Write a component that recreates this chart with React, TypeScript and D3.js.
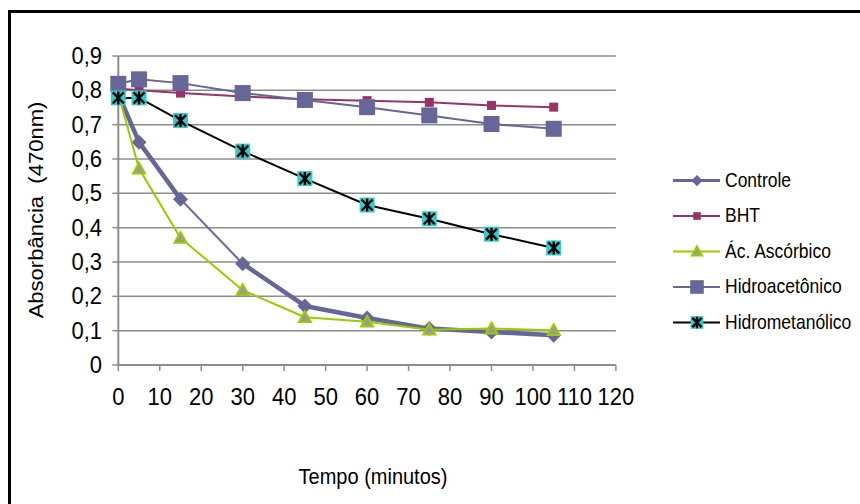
import React from "react";
import * as d3 from "d3";

const times = [0, 5, 15, 30, 45, 60, 75, 90, 105];
const controle = [0.79, 0.649, 0.483, 0.295, 0.172, 0.137, 0.106, 0.096, 0.087];
const bht = [0.805, 0.8, 0.792, 0.782, 0.774, 0.77, 0.765, 0.756, 0.751];
const ascorbico = [0.79, 0.572, 0.37, 0.218, 0.139, 0.126, 0.103, 0.106, 0.101];
const hidroacetonico = [0.819, 0.832, 0.821, 0.792, 0.772, 0.751, 0.727, 0.702, 0.688];
const hidrometanolico = [0.778, 0.778, 0.712, 0.623, 0.543, 0.466, 0.426, 0.381, 0.341];

const seriesNames = ["Controle", "BHT", "Ác. Ascórbico", "Hidroacetônico", "Hidrometanólico"];
const yTicks = [0, 0.1, 0.2, 0.3, 0.4, 0.5, 0.6, 0.7, 0.8, 0.9];
const xTicks = [0, 10, 20, 30, 40, 50, 60, 70, 80, 90, 100, 110, 120];
const yTitle = "Absorbância  (470nm)";
const xTitle = "Tempo (minutos)";

const FONT = "'Liberation Sans', Arial, sans-serif";
const SY = 1.13;

type Kind = "diamond" | "smallSquare" | "triangle" | "bigSquare" | "starSquare";
const styles: { color: string; width: number; thinWidth: number; thinSegments: number[]; kind: Kind; legendWidth: number }[] = [
  { color: "#666699", width: 4.5, thinWidth: 2, thinSegments: [2], kind: "diamond", legendWidth: 3 },
  { color: "#993366", width: 2, thinWidth: 2, thinSegments: [], kind: "smallSquare", legendWidth: 2 },
  { color: "#99cc00", width: 2, thinWidth: 2, thinSegments: [], kind: "triangle", legendWidth: 2 },
  { color: "#666699", width: 2, thinWidth: 2, thinSegments: [], kind: "bigSquare", legendWidth: 2 },
  { color: "#000000", width: 2, thinWidth: 2, thinSegments: [], kind: "starSquare", legendWidth: 2 },
];

function Marker({ kind, x, y, scale = 1 }: { kind: Kind; x: number; y: number; scale?: number }) {
  const s = scale;
  switch (kind) {
    case "diamond": {
      const r = 7.5 * s;
      return <path d={`M${x},${y - r}L${x + r},${y}L${x},${y + r}L${x - r},${y}Z`} fill="#666699" />;
    }
    case "smallSquare": {
      const h = 4.5 * s;
      return <rect x={x - h} y={y - h} width={2 * h} height={2 * h} fill="#993366" />;
    }
    case "triangle": {
      const h = 6 * s;
      return (
        <path
          d={`M${x},${y - h}L${x + h},${y + h * 0.8}L${x - h},${y + h * 0.8}Z`}
          fill="#999999"
          stroke="#99cc00"
          strokeWidth={2}
        />
      );
    }
    case "bigSquare": {
      const h = 8 * s;
      return <rect x={x - h} y={y - h} width={2 * h} height={2 * h} fill="#666699" />;
    }
    case "starSquare": {
      const h = 7.5 * s;
      const a = 5.5 * s;
      return (
        <g>
          <rect x={x - h} y={y - h} width={2 * h} height={2 * h} fill="#33cccc" />
          <path
            d={`M${x - a},${y - a}L${x + a},${y + a}M${x + a},${y - a}L${x - a},${y + a}M${x},${y - a - 1}L${x},${y + a + 1}`}
            stroke="#000"
            strokeWidth={2.4}
          />
        </g>
      );
    }
  }
}

export default function App() {
  const x = d3.scaleLinear().domain([0, 120]).range([118.3, 615.9]);
  const y = d3.scaleLinear().domain([0, 0.9]).range([365, 56]);
  const allSeries = [controle, bht, ascorbico, hidroacetonico, hidrometanolico];
  const segLine = d3
    .line<[number, number]>()
    .x((d) => x(d[0]))
    .y((d) => y(d[1]));

  const legendX = 673;
  const legendY0 = 180.5;
  const legendStep = 35.5;
  const fmtY = (t: number) => (t === 0 ? "0" : d3.format(".1f")(t).replace(".", ","));

  return (
    <div style={{ position: "absolute", left: 0, top: 0 }}>
      <svg width={860} height={504} style={{ display: "block", background: "#fff" }}>
        <rect x={0} y={0} width={860} height={504} fill="#fff" />
        <path d="M9.5,600V11.5H900" fill="none" stroke="#000" strokeWidth={3} />

        {yTicks.slice(1).map((t) => (
          <line key={t} x1={x(0)} x2={x(120)} y1={y(t)} y2={y(t)} stroke="#8c8c8c" strokeWidth={1.5} />
        ))}
        <line x1={x(0)} x2={x(0)} y1={y(0.9)} y2={y(0)} stroke="#8c8c8c" strokeWidth={2} />
        <line x1={x(0)} x2={x(120)} y1={y(0)} y2={y(0)} stroke="#8c8c8c" strokeWidth={2} />
        {yTicks.map((t) => (
          <line key={t} x1={x(0) - 6} x2={x(0)} y1={y(t)} y2={y(t)} stroke="#8c8c8c" strokeWidth={1.5} />
        ))}
        {xTicks.map((t) => (
          <line key={t} x1={x(t)} x2={x(t)} y1={y(0)} y2={y(0) + 6} stroke="#8c8c8c" strokeWidth={1.5} />
        ))}
        {yTicks.map((t) => (
          <text
            key={t}
            transform={`translate(102,${y(t) + 8}) scale(1,1.05)`}
            textAnchor="end"
            fontFamily={FONT}
            fontSize={22}
            fill="#000"
          >
            {fmtY(t)}
          </text>
        ))}
        {xTicks.map((t) => (
          <text
            key={t}
            transform={`translate(${x(t)},405) scale(1,1.05)`}
            textAnchor="middle"
            fontFamily={FONT}
            fontSize={22}
            fill="#000"
          >
            {t}
          </text>
        ))}
        <text
          transform={`translate(43,210) scale(1,${SY}) rotate(-90)`}
          textAnchor="middle"
          fontFamily={FONT}
          fontSize={19.5}
          fill="#000"
          style={{ whiteSpace: "pre" }}
        >
          {yTitle}
        </text>
        <text
          transform={`translate(373,484) scale(1,${SY})`}
          textAnchor="middle"
          fontFamily={FONT}
          fontSize={20}
          fill="#000"
        >
          {xTitle}
        </text>

        {allSeries.map((vals, si) => {
          const st = styles[si];
          return (
            <g key={si}>
              {vals.slice(1).map((v, i) => (
                <path
                  key={i}
                  d={segLine([[times[i], vals[i]], [times[i + 1], v]]) || ""}
                  fill="none"
                  stroke={st.color}
                  strokeWidth={st.thinSegments.includes(i) ? st.thinWidth : st.width}
                  strokeLinecap="round"
                />
              ))}
              {vals.map((v, i) => (
                <Marker key={i} kind={st.kind} x={x(times[i])} y={y(v)} />
              ))}
            </g>
          );
        })}

        {seriesNames.map((name, i) => {
          const ly = legendY0 + i * legendStep;
          return (
            <g key={name}>
              <line x1={legendX} x2={legendX + 47} y1={ly} y2={ly} stroke={styles[i].color} strokeWidth={styles[i].legendWidth} />
              <Marker kind={styles[i].kind} x={legendX + 24} y={ly} scale={styles[i].kind === "diamond" ? 0.75 : 0.85} />
              <text
                transform={`translate(${legendX + 52},${ly + 6}) scale(1,${SY})`}
                fontFamily={FONT}
                fontSize={17.5}
                fill="#000"
              >
                {name}
              </text>
            </g>
          );
        })}
      </svg>
    </div>
  );
}
